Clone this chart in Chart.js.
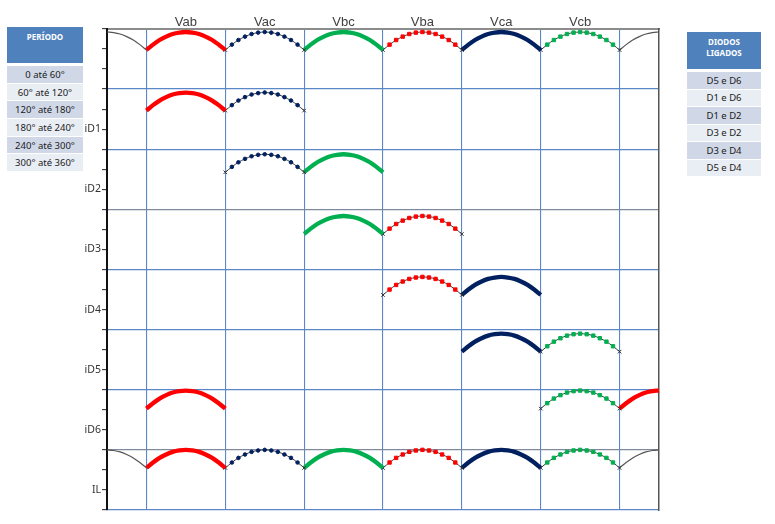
<!DOCTYPE html>
<html>
<head>
<meta charset="utf-8">
<title>Ponte trifásica - correntes nos diodos</title>
<script src="https://cdn.jsdelivr.net/npm/chart.js@4.4.0/dist/chart.umd.min.js"></script>
<style>
html, body { margin: 0; padding: 0; background: #fff; }
#wrap { position: relative; width: 775px; height: 524px; overflow: hidden; }
#canvas { position: absolute; left: 0; top: 0; }
table.side {
    position: absolute;
    border-collapse: collapse;
    font-family: 'Noto Sans', sans-serif;
    font-size: 9.5px;
    color: #1a1a1a;
    text-align: center;
}
table.side th {
    background: #4F81BD;
    color: #fff;
    font-weight: bold;
    font-size: 8px;
    vertical-align: top;
    padding: 4px 0 0 0;
    line-height: 11px;
    border-bottom: 3px solid #fff;
}
table.side td { padding: 0; border-bottom: 1px solid #fff; }
table.side tr:nth-child(odd) td { background: #D0D8E8; }
table.side tr:nth-child(even) td { background: #E9EDF4; }
#periodo { left: 7px; top: 27px; width: 76px; }
#periodo th { height: 32px; }
#periodo td { height: 16.7px; }
#diodos { left: 687px; top: 32px; width: 74px; }
#diodos th { height: 33px; }
#diodos td { height: 16.5px; }
</style>
</head>
<body>
<div id="wrap">
    <canvas id="canvas" width="775" height="524"></canvas>
    <table class="side" id="periodo"><thead><tr><th>PERÍODO</th></tr></thead><tbody></tbody></table>
    <table class="side" id="diodos"><thead><tr><th>DIODOS<br>LIGADOS</th></tr></thead><tbody></tbody></table>
</div>
<script>
// tensões de linha, cada uma conduz 60°
const waveNames = ['Vab', 'Vac', 'Vbc', 'Vba', 'Vca', 'Vcb'];
const waveStart = [30, 90, 150, 210, 270, 330];
const gridAngles = [30, 90, 150, 210, 270, 330, 390];

// forma de um arco (graus dentro do intervalo / queda a partir do pico)
const arcStep = [0, 5, 10, 15, 20, 25, 30, 35, 40, 45, 50, 55, 60];
const arcDrop = [-0.9, -0.63, -0.4, -0.23, -0.1, -0.03, 0, -0.03, -0.1, -0.23, -0.4, -0.63, -0.9];

// painéis de cima para baixo
const panelNames = ['', 'iD1', 'iD2', 'iD3', 'iD4', 'iD5', 'iD6', 'IL'];
const panelPeak = [23.85, 20.83, 17.75, 14.67, 11.63, 8.8, 5.96, 3.0];
const panelWaves = [[0, 1, 2, 3, 4, 5], [0, 1], [1, 2], [2, 3], [3, 4], [4, 5], [0, 5], [0, 1, 2, 3, 4, 5]];
const tailPre = [true, false, false, false, false, false, false, true];
const tailPost = ['gray', null, null, null, null, null, 'Vab', 'gray'];

const periodos = ['0 até 60°', '60° até 120°', '120° até 180°', '180° até 240°', '240° até 300°', '300° até 360°'];
const diodos = ['D5 e D6', 'D1 e D6', 'D1 e D2', 'D3 e D2', 'D3 e D4', 'D5 e D4'];

const RED = '#FF0000';
const NAVY = '#002060';
const GREEN = '#00B050';
const BLUE_LINE = '#5B87C9';

function fillTable(id, rows) {
    const body = document.querySelector('#' + id + ' tbody');
    rows.forEach(function (txt) {
        const tr = document.createElement('tr');
        const td = document.createElement('td');
        td.textContent = txt;
        tr.appendChild(td);
        body.appendChild(tr);
    });
}
fillTable('periodo', periodos);
fillTable('diodos', diodos);

function arcPoints(x0, peak, from, to) {
    let pts = [];
    for (let i = from; i <= to; i++) {
        pts.push({x: x0 + arcStep[i], y: peak + arcDrop[i]});
    }
    return pts;
}

function isEnd(ctx) {
    return ctx.dataIndex === 0 || ctx.dataIndex === arcStep.length - 1;
}

function thinMarkers(color, style, radius) {
    return {
        borderColor: '#3a3a3a',
        borderWidth: 1,
        pointStyle: ctx => isEnd(ctx) ? 'crossRot' : style,
        pointRadius: ctx => isEnd(ctx) ? 2.5 : radius,
        pointBackgroundColor: color,
        pointBorderColor: ctx => isEnd(ctx) ? '#333' : color,
        pointBorderWidth: 1
    };
}

function thick(color) {
    return {borderColor: color, borderWidth: 4.3, pointRadius: 0, borderCapStyle: 'butt'};
}

const waveStyle = [
    thick(RED),
    thinMarkers(NAVY, 'circle', 1.8),
    thick(GREEN),
    thinMarkers(RED, 'rect', 2.4),
    thick(NAVY),
    thinMarkers(GREEN, 'rect', 2.4)
];
const grayStyle = {borderColor: '#555', borderWidth: 1.2, pointRadius: 0};

let datasets = [];
panelWaves.forEach(function (waves, p) {
    const peak = panelPeak[p];
    if (tailPre[p]) {
        datasets.push(Object.assign({label: 'pre' + p, data: arcPoints(-30, peak, 6, 12)}, grayStyle));
    }
    waves.forEach(function (w) {
        datasets.push(Object.assign({label: waveNames[w] + ' ' + panelNames[p], data: arcPoints(waveStart[w], peak, 0, 12)}, waveStyle[w]));
    });
    if (tailPost[p] === 'gray') {
        datasets.push(Object.assign({label: 'post' + p, data: arcPoints(390, peak, 0, 6)}, grayStyle));
    } else if (tailPost[p] === 'Vab') {
        datasets.push(Object.assign({label: 'Vab post' + p, data: arcPoints(390, peak, 0, 6)}, waveStyle[0]));
    }
});

let yTicks = [];
for (let v = 0; v <= 24; v++) yTicks.push(v);

let chart = new Chart(document.getElementById('canvas'), {
    type: 'line',
    data: {datasets: datasets},
    options: {
        responsive: false,
        animation: false,
        clip: false,
        layout: {padding: {left: 0, right: 116, top: 0, bottom: 14}},
        plugins: {legend: {display: false}, tooltip: {enabled: false}},
        elements: {line: {tension: 0.4, cubicInterpolationMode: 'monotone'}},
        scales: {
            x: {
                type: 'linear', min: 0, max: 420,
                afterBuildTicks: function (s) { s.ticks = gridAngles.map(v => ({value: v})); },
                grid: {color: BLUE_LINE, lineWidth: 1.1, drawTicks: false},
                ticks: {display: false},
                border: {display: false},
                afterFit: function (s) { s.height = 0; }
            },
            xTop: {
                type: 'linear', position: 'top', min: 0, max: 420,
                afterBuildTicks: function (s) { s.ticks = waveStart.map(v => ({value: v + 30})); },
                ticks: {
                    autoSkip: false, maxRotation: 0, padding: -1, color: '#404040',
                    font: {family: 'Liberation Sans, Arial', size: 13},
                    callback: function (v, i) { return waveNames[i]; }
                },
                grid: {drawOnChartArea: false, drawTicks: false},
                border: {display: true, color: '#8c8c8c', width: 2},
                afterFit: function (s) { s.height = 29; }
            },
            y: {
                type: 'linear', min: 0, max: 24,
                afterBuildTicks: function (s) { s.ticks = yTicks.map(v => ({value: v})); },
                grid: {
                    color: function (ctx) {
                        const v = ctx.tick ? ctx.tick.value : -1;
                        if (v === 3 || v === 15) return '#7f8aa0';
                        return (v % 3 === 0 && v < 24) ? BLUE_LINE : 'rgba(0,0,0,0)';
                    },
                    lineWidth: 1.3,
                    tickLength: 5,
                    tickColor: '#222',
                    tickWidth: 1
                },
                ticks: {
                    autoSkip: false, padding: 1, color: '#333',
                    font: {family: 'Noto Sans', size: 10.5},
                    callback: function (v) {
                        return v % 3 === 1 ? panelNames[7 - (v - 1) / 3] : '';
                    }
                },
                border: {color: '#111', width: 2},
                afterFit: function (s) { s.width = 107; }
            },
            yRight: {
                type: 'linear', position: 'right', min: 0, max: 24,
                ticks: {display: false},
                grid: {drawOnChartArea: false, drawTicks: false},
                border: {color: '#555', width: 1.5},
                afterFit: function (s) { s.width = 0; }
            }
        }
    }
});
</script>
</body>
</html>
